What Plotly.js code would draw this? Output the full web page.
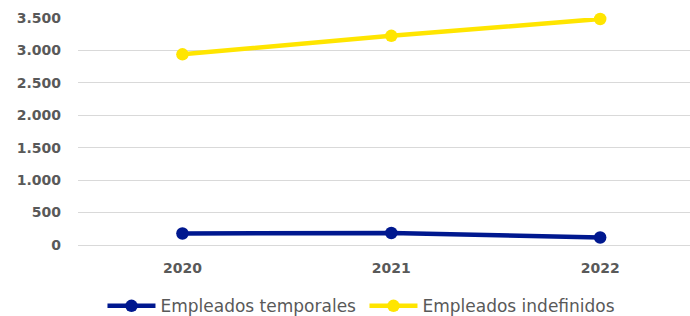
<!DOCTYPE html>
<html>
<head>
<meta charset="utf-8">
<script src="https://cdn.plot.ly/plotly-3.0.1.min.js"></script>
<style>html,body{margin:0;padding:0;background:#fff}#chart{width:690px;height:316px}</style>
</head>
<body>
<div id="chart"></div>
<script>
const years = ["2020", "2021", "2022"];
const temporales = [177, 185, 115];
const indefinidos = [2940, 3225, 3485];
const yTicks = [0, 500, 1000, 1500, 2000, 2500, 3000, 3500];
const yTickLabels = ["0", "500", "1.000", "1.500", "2.000", "2.500", "3.000", "3.500"];

const traces = [
  {x: years, y: temporales, name: "Empleados temporales", type: "scatter", mode: "lines+markers",
   line: {color: "#00188F", width: 4.5}, marker: {color: "#00188F", size: 12.5}, cliponaxis: false},
  {x: years, y: indefinidos, name: "Empleados indefinidos", type: "scatter", mode: "lines+markers",
   line: {color: "#FFE500", width: 4.5}, marker: {color: "#FFE500", size: 12.5}, cliponaxis: false}
];
const tickFont = {family: "DejaVu Sans, sans-serif", size: 14, color: "#595959", weight: "bold"};
const layout = {
  width: 690, height: 316,
  margin: {l: 78, r: 0, t: 18, b: 70.5, autoexpand: false},
  paper_bgcolor: "#fff", plot_bgcolor: "#fff",
  showlegend: true,
  legend: {orientation: "h", x: 0.04, xanchor: "left", y: -0.27, yanchor: "middle",
           itemwidth: 48, entrywidth: 199, entrywidthmode: "pixels",
           font: {family: "DejaVu Sans, sans-serif", size: 17, color: "#595959"}, traceorder: "normal"},
  xaxis: {type: "category", range: [-0.5, 2.43], showgrid: false, zeroline: false, showline: false,
          tickfont: tickFont, ticklabelstandoff: 13},
  yaxis: {range: [0, 3500], tickvals: yTicks, ticktext: yTickLabels, showgrid: true, gridcolor: "#D9D9D9", gridwidth: 1,
          zeroline: true, zerolinecolor: "#D9D9D9", zerolinewidth: 1, showline: false,
          tickfont: tickFont, ticklabelstandoff: 16}
};
Plotly.newPlot("chart", traces, layout, {displayModeBar: false, staticPlot: true});
</script>
</body>
</html>
